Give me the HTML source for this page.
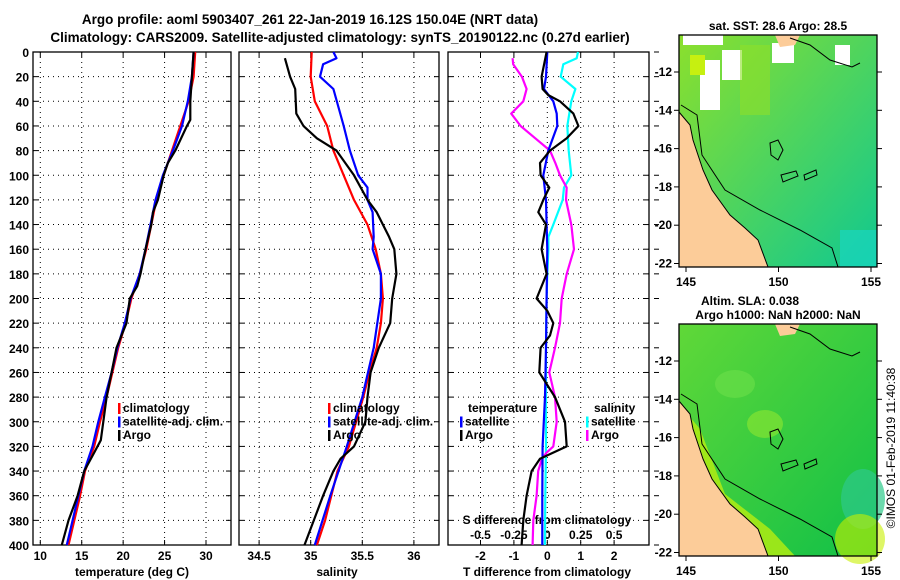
<!DOCTYPE html>
<html><head><meta charset="utf-8">
<style>
body{margin:0;background:#fff;}
svg{display:block;font-family:"Liberation Sans",Arial,sans-serif;font-weight:bold;}
</style></head>
<body>
<svg id="c" width="900" height="580" viewBox="0 0 900 580">
<text x="310" y="24" font-size="13.5" text-anchor="middle">Argo profile: aoml 5903407_261 22-Jan-2019 16.12S 150.04E (NRT data)</text>
<text x="340" y="42" font-size="13.5" text-anchor="middle">Climatology: CARS2009. Satellite-adjusted climatology: synTS_20190122.nc (0.27d earlier)</text>
</svg>
<script>
// ---- data ----
const depths = [0,20,40,60,80,100,120,140,160,180,200,220,240,260,280,300,320,340,360,380,400];
const tempClim = [28.7,28.5,27.9,26.9,25.9,24.9,24.0,23.4,22.8,22.0,21.0,20.3,19.4,18.7,18.0,17.2,16.5,15.4,14.8,14.1,13.4];
const tempSat  = [28.5,28.3,27.8,27.1,26.0,24.8,23.9,23.3,22.7,22.0,20.9,20.2,19.3,18.6,17.8,17.0,16.3,15.3,14.6,13.9,13.2];
const argoDepthT = [0,20,40,55,60,80,90,100,120,130,140,160,180,190,200,220,240,260,280,300,315,325,340,360,380,400];
const tempArgo = [28.5,28.3,28.1,28.1,27.7,26.3,25.4,24.9,24.2,23.6,23.4,22.7,22.1,21.7,20.8,20.4,19.2,18.6,18.0,17.6,17.3,16.5,15.3,14.5,13.4,12.6];
const salClim = [35.01,35.0,35.04,35.16,35.22,35.32,35.42,35.55,35.63,35.68,35.70,35.68,35.64,35.57,35.51,35.44,35.37,35.26,35.20,35.14,35.06];
const salDepthSat = [0,5,10,20,30,60,80,100,110,120,130,150,160,180,200,240,280,320,360,400];
const salSat = [35.22,35.25,35.12,35.09,35.22,35.32,35.38,35.46,35.55,35.55,35.60,35.61,35.60,35.68,35.68,35.61,35.50,35.35,35.19,35.04];
const salDepthArgo = [5,20,30,50,60,70,80,100,120,130,150,160,180,200,220,240,260,280,300,320,330,340,360,380,400];
const salArgo = [34.75,34.80,34.85,34.86,34.93,35.06,35.25,35.42,35.55,35.64,35.76,35.81,35.83,35.79,35.77,35.66,35.58,35.55,35.53,35.42,35.29,35.22,35.12,35.03,34.94];
const dTDepthSat = [0,20,30,40,50,60,80,100,120,140,160,200,240,280,320,360,400];
const dTSat = [0,-0.04,-0.1,0.18,0.28,0.3,0.03,-0.12,-0.04,-0.02,0,-0.02,-0.04,-0.07,-0.14,-0.15,-0.15];
const dTDepthArgo = [0,20,30,35,40,50,60,70,80,90,100,110,120,130,140,160,180,200,210,220,230,240,260,280,300,320,330,340,360,380,400];
const dTArgo = [-0.02,-0.17,-0.14,0.03,0.38,0.78,0.93,0.58,0.08,-0.22,-0.2,0.06,-0.12,-0.27,-0.04,-0.17,-0.02,-0.32,0,0.18,0.08,-0.2,-0.24,0.23,0.53,0.58,-0.22,-0.47,-0.62,-0.72,-0.77];
const dSDepthSat = [0,5,10,20,30,40,60,80,100,110,120,140,150,160,180,200,240,280,320,360,400];
const dSSat = [0.23,0.22,0.12,0.10,0.21,0.18,0.15,0.16,0.18,0.125,0.115,0.045,0.008,0.008,0,-0.005,-0.01,-0.01,-0.01,-0.015,-0.018];
const dSDepthArgo = [5,10,20,30,40,50,60,70,80,90,100,110,120,140,160,180,200,220,240,260,280,300,320,325,330,340,360,380,400];
const dSArgo = [-0.26,-0.255,-0.19,-0.155,-0.18,-0.27,-0.2,-0.09,0.02,0.06,0.095,0.145,0.14,0.18,0.2,0.145,0.108,0.095,0.058,0.015,0.058,0.07,0.045,-0.005,-0.04,-0.068,-0.08,-0.105,-0.11];
const depthTicks = [0,20,40,60,80,100,120,140,160,180,200,220,240,260,280,300,320,340,360,380,400];
const tempTicks = [10,15,20,25,30];
const salTicks = [34.5,35,35.5,36];
const dTTicks = [-2,-1,0,1,2];
const dSTicks = [-0.5,-0.25,0,0.25,0.5];
const lonTicks = [145,150,155];
const latTicks = [-12,-14,-16,-18,-20,-22];

// ---- helpers ----
const svg = document.getElementById('c');
const NS = 'http://www.w3.org/2000/svg';
function mk(tag, attrs, parent){const e=document.createElementNS(NS,tag);for(const k in attrs)e.setAttribute(k,attrs[k]);(parent||svg).appendChild(e);return e;}
const Y0=52, Y1=545;
const yD = d => Y0 + d*(Y1-Y0)/400;
const xT = t => 40.3 + (t-10)*8.285;
const xS = s => 310.7 + (s-35)*103.2;
const xDT = t => 547.3 + t*33.4;
const xDS = s => 547.3 + s*133.6;

function panel(name){
  const g=mk('g',{});
  
  
  return g;
}
function grid(g,x0,x1,xs){
  depthTicks.forEach(d=>{ if(d>0&&d<400){const l=mk('line',{x1:x0,x2:x1,y1:yD(d),y2:yD(d),stroke:'#000','stroke-width':1,'stroke-dasharray':'1,4'},g);}
    mk('line',{x1:x0,x2:x0+5,y1:yD(d),y2:yD(d),stroke:'#000'},g);mk('line',{x1:x1-5,x2:x1,y1:yD(d),y2:yD(d),stroke:'#000'},g);});
  xs.forEach(x=>{const l=mk('line',{x1:x,x2:x,y1:Y0,y2:Y1,stroke:'#000','stroke-width':1,'stroke-dasharray':'1,4'},g);
    mk('line',{x1:x,x2:x,y1:Y1,y2:Y1-5,stroke:'#000'},g);mk('line',{x1:x,x2:x,y1:Y0,y2:Y0+5,stroke:'#000'},g);});
  const r=mk('rect',{x:x0,y:Y0,width:x1-x0,height:Y1-Y0,fill:'none',stroke:'#000','stroke-width':1.3},g);
  
}
function line(g,xs,ds,fx,color,name,w){
  const pts=xs.map((v,i)=>fx(v).toFixed(1)+','+yD(ds[i]).toFixed(1)).join(' ');
  const p=mk('polyline',{points:pts,fill:'none',stroke:color,'stroke-width':w||2.2,'stroke-linejoin':'round'},g);
  
  
}
function txt(g,x,y,s,size,anchor,name,color){
  const t=mk('text',{x:x,y:y,'font-size':size,'text-anchor':anchor||'start',fill:color||'#000'},g);t.textContent=s;
  
  
  return t;
}
function legend(g,x,y,items){
  items.forEach((it,i)=>{const yy=y+i*13.5;mk('rect',{x:x,y:yy-9,width:2.5,height:11,fill:it[1]},g);txt(g,x+5,yy,it[0],12,'start','legend-entry');});
}

// ---- panel 1: temperature ----
const g1=panel('temperature-panel');
grid(g1,33,231,tempTicks.map(xT));
depthTicks.forEach(d=>txt(g1,29,yD(d)+5,String(d),12,'end','y-tick-label'));
tempTicks.forEach(t=>txt(g1,xT(t),560,String(t),12,'middle','x-tick-label'));
txt(g1,132,576,'temperature (deg C)',12,'middle','x-axis-title');
line(g1,tempClim,depths,xT,'#f00','temp-climatology-line');
line(g1,tempSat,depths,xT,'#00f','temp-satellite-line');
line(g1,tempArgo,argoDepthT,xT,'#000','temp-argo-line');
legend(g1,118,412,[['climatology','#f00'],['satellite-adj. clim.','#00f'],['Argo','#000']]);

// ---- panel 2: salinity ----
const g2=panel('salinity-panel');
grid(g2,239,439,salTicks.map(xS));
salTicks.forEach(s=>txt(g2,xS(s),560,String(s),12,'middle','x-tick-label'));
txt(g2,337,576,'salinity',12,'middle','x-axis-title');
line(g2,salClim,depths,xS,'#f00','sal-climatology-line');
line(g2,salSat,salDepthSat,xS,'#00f','sal-satellite-line');
line(g2,salArgo,salDepthArgo,xS,'#000','sal-argo-line');
legend(g2,328,412,[['climatology','#f00'],['satellite-adj. clim.','#00f'],['Argo','#000']]);

// ---- panel 3: differences ----
const g3=panel('difference-panel');
grid(g3,448,649,dTTicks.map(xDT));
depthTicks.forEach(d=>mk('line',{x1:654,x2:659,y1:yD(d),y2:yD(d),stroke:'#000'},g3));
dTTicks.forEach(t=>txt(g3,xDT(t),560,String(t),12,'middle','x-tick-label'));
txt(g3,547,576,'T difference from climatology',12,'middle','x-axis-title');
txt(g3,547,524,'S difference from climatology',12,'middle','s-axis-title');
dSTicks.forEach(s=>txt(g3,xDS(s),539,String(s),12,'middle','s-tick-label'));
line(g3,dSSat,dSDepthSat,xDS,'#0ff','sal-diff-satellite-line');
line(g3,dSArgo,dSDepthArgo,xDS,'#f0f','sal-diff-argo-line');
line(g3,dTSat,dTDepthSat,xDT,'#00f','temp-diff-satellite-line');
line(g3,dTArgo,dTDepthArgo,xDT,'#000','temp-diff-argo-line');
txt(g3,468,412,'temperature',12,'start','legend-title');
txt(g3,594,412,'salinity',12,'start','legend-title');
legend(g3,460,425.5,[['satellite','#00f'],['Argo','#000']]);
legend(g3,586,425.5,[['satellite','#0ff'],['Argo','#f0f']]);

// ---- maps ----
const xLon = l => 686 + (l-145)*18.5;
function map(y0,title,colorA,colorB,name,isSla){
  const g=mk('g',{});
  
  
  const yLat = la => y0 + 37 + (-12-la)*19.15;
  const id='grad'+y0;
  const defs=mk('defs',{},g);
  const lg=mk('linearGradient',{id:id,x1:0,y1:0,x2:1,y2:1},defs);
  mk('stop',{offset:'0','stop-color':colorA},lg);mk('stop',{offset:'1','stop-color':colorB},lg);
  mk('rect',{x:679,y:y0,width:198,height:232,fill:'url(#'+id+')'},g);
  if(isSla){
    mk('ellipse',{cx:863,cy:y0+175,rx:22,ry:30,fill:'#2dc98a',opacity:0.7},g);
    mk('ellipse',{cx:735,cy:y0+60,rx:20,ry:14,fill:'#6de04a',opacity:0.6},g);
    mk('ellipse',{cx:765,cy:y0+100,rx:18,ry:14,fill:'#90e830',opacity:0.6},g);
    mk('ellipse',{cx:860,cy:y0+215,rx:25,ry:25,fill:'#c8f000',opacity:0.6},g);
    mk('polygon',{points:`679,${y0+80} 700,${y0+105} 725,${y0+170} 770,${y0+205} 795,${y0+232} 679,${y0+232}`,fill:'#b8ee10',opacity:0.8},g);
  } else {
    mk('rect',{x:683,y:y0,width:40,height:10,fill:'#fff'},g);
    mk('rect',{x:700,y:y0+25,width:20,height:50,fill:'#fff'},g);
    mk('rect',{x:722,y:y0+15,width:20,height:30,fill:'#fff'},g);
    mk('rect',{x:772,y:y0+8,width:22,height:20,fill:'#fff'},g);
    mk('rect',{x:835,y:y0+10,width:15,height:20,fill:'#fff'},g);
    mk('rect',{x:690,y:y0+20,width:15,height:20,fill:'#c6f010'},g);
    mk('rect',{x:740,y:y0+10,width:30,height:70,fill:'#8ee02a',opacity:0.6},g);
    mk('rect',{x:840,y:y0+195,width:37,height:37,fill:'#1ad6c0',opacity:0.7},g);
  }
  const land=mk('polygon',{points:`679,${y0+77} 690,${y0+90} 693,${y0+105} 703,${y0+135} 712,${y0+155} 730,${y0+180} 745,${y0+193} 758,${y0+205} 768,${y0+232} 679,${y0+232}`,fill:'#fccc99',stroke:'#000','stroke-width':1},g);
  
  mk('polygon',{points:`775,${y0} 800,${y0} 795,${y0+10} 780,${y0+12}`,fill:'#fccc99'},g);
  mk('polyline',{points:`790,${y0+3} 810,${y0+10} 830,${y0+25} 852,${y0+32} 860,${y0+28}`,fill:'none',stroke:'#000','stroke-width':1},g);
  mk('polyline',{points:`681,${y0+70} 697,${y0+80} 702,${y0+120} 725,${y0+155} 760,${y0+175} 800,${y0+195} 832,${y0+213} 838,${y0+232}`,fill:'none',stroke:'#000','stroke-width':1},g);
  mk('path',{d:`M770 ${y0+108} l8 -3 l5 10 l-5 10 l-7 -5 z M781 ${y0+140} l15 -4 l2 5 l-15 6 z M804 ${y0+140} l12 -5 l1 5 l-12 5 z`,fill:'none',stroke:'#000','stroke-width':1},g);
  mk('rect',{x:679,y:y0,width:198,height:232,fill:'none',stroke:'#000','stroke-width':1.3},g);
  lonTicks.forEach(l=>{mk('line',{x1:xLon(l),x2:xLon(l),y1:y0+232,y2:y0+237,stroke:'#000'},g);txt(g,xLon(l),y0+251,String(l),12,'middle','lon-tick-label');});
  latTicks.forEach(la=>{mk('line',{x1:674,x2:679,y1:yLat(la),y2:yLat(la),stroke:'#000'},g);mk('line',{x1:877,x2:882,y1:yLat(la),y2:yLat(la),stroke:'#000'},g);txt(g,672,yLat(la)+4,String(la),12,'end','lat-tick-label');});
  title.forEach((t,i)=>txt(g,778-(i?0:(isSla?28:0)),y0-(title.length-i)*14+9,t,12,'middle','map-title'));
}
map(35,['sat. SST: 28.6 Argo: 28.5'],'#8ce02c','#10c890','sst-map',false);
map(324,['Altim. SLA: 0.038','Argo h1000: NaN h2000: NaN'],'#60d838','#10c048','sla-map',true);
const cr=txt(null,0,0,'©IMOS 01-Feb-2019 11:40:38',12,'middle','copyright-stamp');
cr.setAttribute('transform','translate(895,448) rotate(-90)');
cr.setAttribute('font-weight','normal');
</script>
</body></html>
